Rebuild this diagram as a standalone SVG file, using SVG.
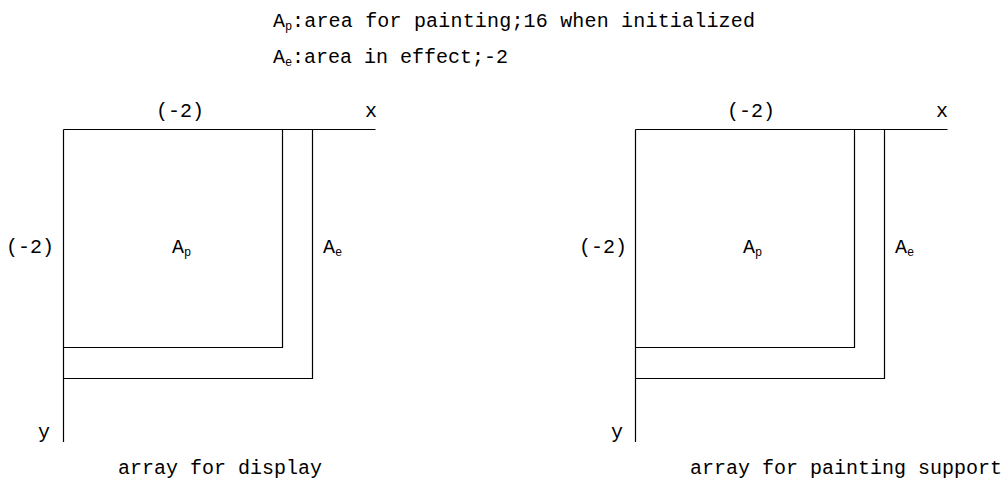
<svg xmlns="http://www.w3.org/2000/svg" width="1007" height="486" viewBox="0 0 1007 486">
<style>
.t{font-family:"Liberation Mono","DejaVu Sans Mono",monospace;font-size:20px;fill:#000}
.s{font-size:12px}
.ln{stroke:#000;stroke-width:1.2;fill:none}
</style>
<rect width="1007" height="486" fill="#fff"/>
<g id="legend">
<text class="t" x="273" y="27">A<tspan class="s" x="285" dy="3">p</tspan><tspan dy="-3" x="292" textLength="463" lengthAdjust="spacing">:area for painting;16 when initialized</tspan></text>
<text class="t" x="273" y="63">A<tspan class="s" x="285" dy="3">e</tspan><tspan dy="-3" x="292">:area in effect;-2</tspan></text>
</g>
<g id="display-array">
<g class="connectors">
<path class="ln" d="M63.5 129.5H375.5M63.5 129.5V442M282.5 129.5V347.5H63.5M312.5 129.5V378.5H63.5"/>
</g>
<text class="t" x="180" y="117" text-anchor="middle">(-2)</text>
<text class="t" x="371" y="117" text-anchor="middle">x</text>
<text class="t" x="30" y="253" text-anchor="middle">(-2)</text>
<text class="t" x="172" y="253">A<tspan class="s" dy="3">p</tspan></text>
<text class="t" x="323" y="253">A<tspan class="s" dy="3">e</tspan></text>
<text class="t" x="44" y="438" text-anchor="middle">y</text>
<text class="t" x="118" y="474">array for display</text>
</g>
<g id="painting-support-array">
<g class="connectors">
<path class="ln" d="M635.5 129.5H947.5M635.5 129.5V442M854.5 129.5V347.5H635.5M884.5 129.5V378.5H635.5"/>
</g>
<text class="t" x="751" y="117" text-anchor="middle">(-2)</text>
<text class="t" x="942" y="117" text-anchor="middle">x</text>
<text class="t" x="603" y="253" text-anchor="middle">(-2)</text>
<text class="t" x="743" y="253">A<tspan class="s" dy="3">p</tspan></text>
<text class="t" x="895" y="253">A<tspan class="s" dy="3">e</tspan></text>
<text class="t" x="617" y="438" text-anchor="middle">y</text>
<text class="t" x="690" y="474">array for painting support</text>
</g>
</svg>
